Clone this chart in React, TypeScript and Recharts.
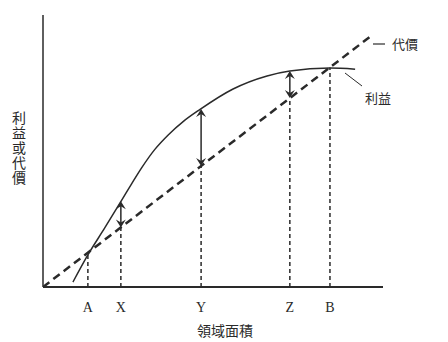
import { LineChart, Line, XAxis, YAxis, ReferenceLine } from 'recharts';

// 利益 curve (benefit), x/y in 0..100 units
const benefitX = [8.8, 13.2, 18.2, 23.2, 26.1, 29.0, 32.9, 36.9, 41.3, 46.2, 55.9, 65.9, 72.6, 84.4, 91.8];
const benefitY = [1.8, 11.8, 21.8, 32.0, 38.0, 43.8, 50.6, 56.0, 60.9, 65.3, 72.8, 77.6, 79.4, 80.5, 80.1];

// 代價 straight line (cost)
const costX = [0, 96.8];
const costY = [0, 92.6];

// points on the x axis
const tickLabels = ['A', 'X', 'Y', 'Z', 'B'];
const tickPos = [13.2, 22.9, 46.5, 72.6, 84.4];
const dropTop = [11.9, 21.9, 44.5, 69.5, 80.7];

// double arrows between benefit and cost at X, Y, Z
const arrowPos = [22.9, 46.5, 72.6];
const arrowTop = [31.5, 65.4, 79.4];
const arrowBottom = [21.9, 44.5, 69.5];

const benefitData = benefitX.map((x, i) => ({ x, y: benefitY[i] }));
const costData = costX.map((x, i) => ({ x, y: costY[i] }));

const INK = '#2a2a2a';
const CJK = '"Noto Sans CJK TC", "Noto Sans CJK SC", sans-serif';

const DoubleArrow = (props: any) => {
  const { x1, y1, x2, y2 } = props;
  const top = Math.min(y1, y2);
  const bot = Math.max(y1, y2);
  const h = 8;
  const w = 5;
  return (
    <g>
      <line x1={x1} y1={top + 4} x2={x2} y2={bot - 4} stroke={INK} strokeWidth={1.5} />
      <polygon points={`${x1},${top} ${x1 - w},${top + h} ${x1},${top + h - 3} ${x1 + w},${top + h}`} fill={INK} />
      <polygon points={`${x1},${bot} ${x1 - w},${bot - h} ${x1},${bot - h + 3} ${x1 + w},${bot - h}`} fill={INK} />
    </g>
  );
};

export default function App() {
  return (
    <div style={{ position: 'absolute', left: 0, top: 0, width: 448, height: 342, background: '#fff' }}>
      <LineChart width={448} height={342} margin={{ top: 15, right: 65, bottom: 25, left: 0 }}>
        <XAxis
          type="number"
          dataKey="x"
          domain={[0, 100]}
          ticks={tickPos}
          tickFormatter={(v: number) => tickLabels[tickPos.indexOf(v)] ?? ''}
          tickLine={false}
          axisLine={{ stroke: INK, strokeWidth: 2 }}
          tick={{ fontSize: 14, fill: INK, fontFamily: '"Liberation Serif", serif' }}
          tickMargin={9}
          height={30}
          allowDataOverflow
        />
        <YAxis
          type="number"
          dataKey="y"
          domain={[0, 100]}
          tick={false}
          tickLine={false}
          axisLine={{ stroke: INK, strokeWidth: 1.5 }}
          width={43}
          allowDataOverflow
        />

        {/* dashed drops to the axis */}
        {tickPos.map((x, i) => (
          <ReferenceLine
            key={`drop-${i}`}
            segment={[{ x, y: 0 }, { x, y: dropTop[i] }]}
            stroke={INK}
            strokeWidth={1.5}
            strokeDasharray="4 3"
          />
        ))}

        <Line
          data={costData}
          dataKey="y"
          type="linear"
          stroke={INK}
          strokeWidth={2.5}
          strokeDasharray="8 5"
          dot={false}
          isAnimationActive={false}
        />
        <Line
          data={benefitData}
          dataKey="y"
          type="monotone"
          stroke={INK}
          strokeWidth={1.5}
          dot={false}
          isAnimationActive={false}
        />

        {arrowPos.map((x, i) => (
          <ReferenceLine
            key={`arrow-${i}`}
            segment={[{ x, y: arrowTop[i] }, { x, y: arrowBottom[i] }]}
            shape={DoubleArrow}
          />
        ))}
      </LineChart>

      {/* annotations */}
      <svg width={448} height={342} style={{ position: 'absolute', left: 0, top: 0, pointerEvents: 'none' }}>
        <line x1={373} y1={44} x2={385} y2={44} stroke={INK} strokeWidth={1.2} />
        <line x1={345} y1={73} x2={362} y2={86} stroke={INK} strokeWidth={1} />
      </svg>
      <div style={{ position: 'absolute', left: 392, top: 35, fontSize: 13, fontFamily: CJK, color: INK, lineHeight: '18px' }}>代價</div>
      <div style={{ position: 'absolute', left: 365, top: 89, fontSize: 13, fontFamily: CJK, color: INK, lineHeight: '18px' }}>利益</div>
      <div
        style={{
          position: 'absolute',
          left: 10,
          top: 111,
          fontSize: 14,
          fontFamily: CJK,
          color: INK,
          writingMode: 'vertical-rl',
          lineHeight: '18px',
          letterSpacing: 1,
        }}
      >
        利益或代價
      </div>
      <div style={{ position: 'absolute', left: 197, top: 321, fontSize: 14, fontFamily: CJK, color: INK, lineHeight: '18px' }}>
        領域面積
      </div>
    </div>
  );
}
